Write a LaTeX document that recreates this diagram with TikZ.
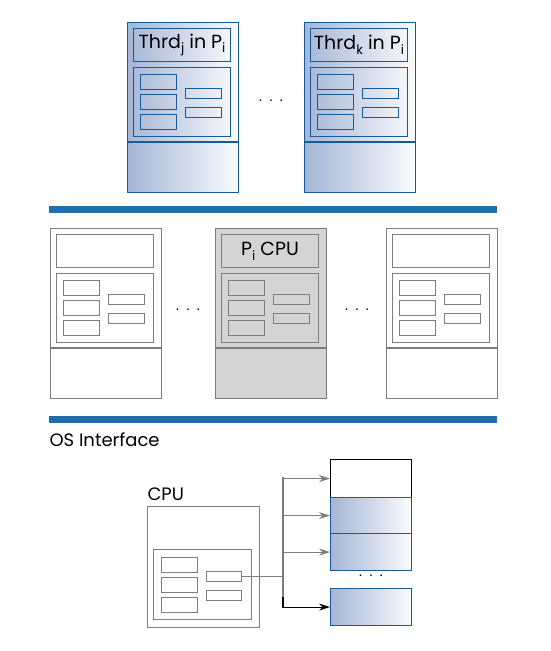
\documentclass[tikz,border=0pt]{standalone}
\usepackage{fontspec}
\setmainfont{Poppins}
\usetikzlibrary{arrows.meta}

\definecolor{edge}{RGB}{25,90,150}
\definecolor{barblue}{RGB}{35,110,170}
\definecolor{shade}{RGB}{165,182,214}
\definecolor{cpugray}{RGB}{212,212,212}
\definecolor{wiregray}{RGB}{125,125,125}

\newcommand{\low}[1]{\raisebox{-.45ex}{\fontsize{13}{13}\selectfont #1}}
% one processor box: name, x, y, line colour, fill, title
\newcommand{\cpubox}[6]{
  \begin{scope}[shift={(#2,#3)}]
    \node[box=#4,#5,minimum width=111pt,minimum height=170pt] (#1) at (0,0) {};
    \draw[#4,line width=1.1pt] (0,120)--(111,120);
    \node[box=#4,minimum width=97pt,minimum height=33pt] (#1-t) at (6,6) {};
    \node[font=\fontsize{19}{22}\selectfont] at (#1-t) {#6};
    \node[box=#4,minimum width=97pt,minimum height=69pt] (#1-m) at (6,45) {};
    \foreach \r in {0,1,2}
      \node[box=#4,minimum width=36pt,minimum height=15pt] (#1-a\r) at (13,52+20*\r) {};
    \foreach \r in {0,1}
      \node[box=#4,minimum width=36pt,minimum height=10pt] (#1-b\r) at (58,66+19*\r) {};
  \end{scope}
}

\tikzset{
  box/.style={draw=#1,line width=1.1pt,inner sep=0pt,anchor=north west},
  thrd/.style={left color=shade,right color=white!95!shade},
  wire/.style={draw=wiregray,line width=1.1pt},
  tip/.style={-{Stealth[length=11pt,width=7pt]}},
  dots/.style={font=\fontsize{14}{14}\selectfont},
}

\begin{document}
\begin{tikzpicture}[x=1pt,y=-1pt]
  \useasboundingbox (0,0) rectangle (551,651);

  % threads
  \cpubox{tj}{127}{22}{edge}{thrd}{Thrd\low{j} in P\low{i}}
  \cpubox{tk}{304}{22}{edge}{thrd}{Thrd\low{k} in P\low{i}}
  \node[dots] (d1) at (271,101) {.\ \ .\ \ .};

  \draw[barblue,line width=7pt] (49,209)--(497,209);

  % processors
  \cpubox{pa}{50}{228}{wiregray}{fill=white}{}
  \cpubox{pi}{215}{228}{wiregray}{fill=cpugray}{P\low{i} CPU}
  \cpubox{pb}{386}{228}{wiregray}{fill=white}{}
  \node[dots] (d2) at (188,310) {.\ \ .\ \ .};
  \node[dots] (d3) at (357,310) {.\ \ .\ \ .};

  \draw[barblue,line width=7pt] (49,419)--(497,419);
  \node[anchor=west,font=\fontsize{18}{21}\selectfont] (os) at (46,440) {OS Interface};

  % cpu
  \node[anchor=base west,font=\fontsize{18}{21}\selectfont] (cpul) at (144,500) {CPU};
  \node[box=wiregray,minimum width=112pt,minimum height=121pt] (cpu) at (147,506) {};
  \node[box=wiregray,minimum width=98pt,minimum height=70pt] (cpu-m) at (153,549) {};
  \foreach \r in {0,1,2}
    \node[box=wiregray,minimum width=36pt,minimum height=15pt] (cpu-a\r) at (161,557+20*\r) {};
  \foreach \r in {0,1}
    \node[box=wiregray,minimum width=35pt,minimum height=10pt] (cpu-b\r) at (206,571+19*\r) {};

  % memory
  \node[box=black,minimum width=81pt,minimum height=38pt] (m0) at (330,459) {};
  \node[box=edge,thrd,minimum width=81pt,minimum height=36pt] (m1) at (330,497) {};
  \node[box=edge,thrd,minimum width=81pt,minimum height=37pt] (m2) at (330,533) {};
  \node[box=edge,thrd,minimum width=81pt,minimum height=37pt] (m3) at (330,588) {};
  \node[dots] (d4) at (371,576) {.\ \ .\ \ .};

  \coordinate (bus) at (283,477);
  \coordinate (tap) at (283,597);
  \draw[wire] (cpu-b0.east)--(cpu-b0.east -| bus);
  \draw[wire] (bus)--(tap);
  \foreach \m in {m0,m1,m2}
    \draw[wire,tip] (bus |- \m.west)--(\m.west);
  \draw[line width=1.1pt,tip] (tap) |- (m3.west);
\end{tikzpicture}
\end{document}
